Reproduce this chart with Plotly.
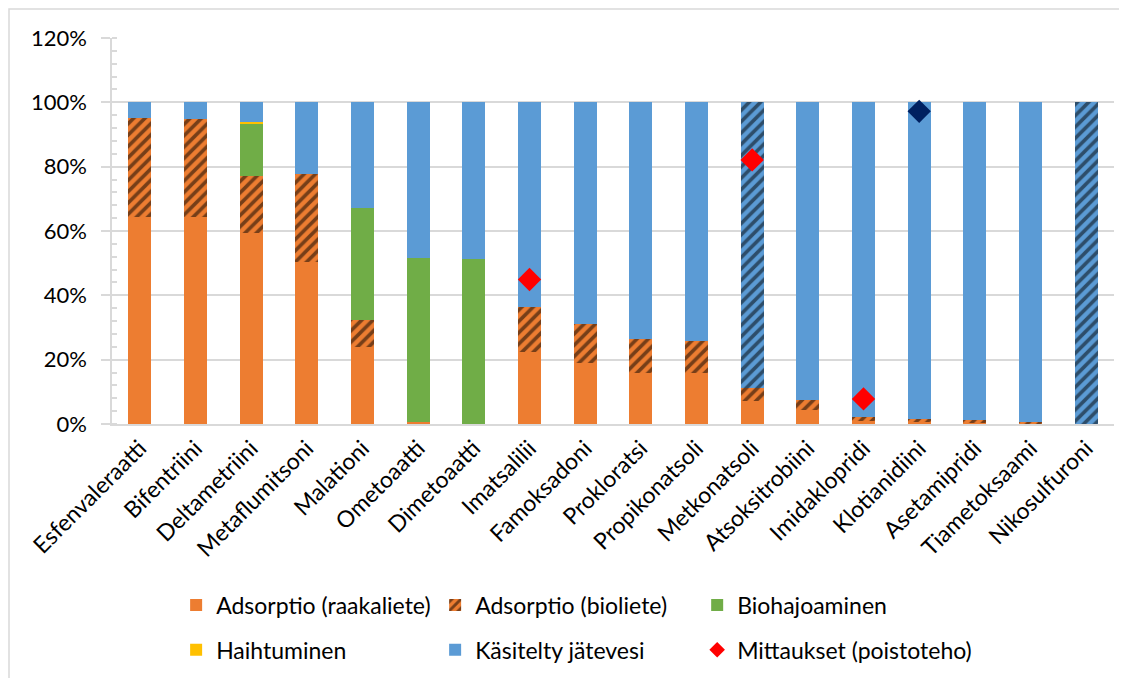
import plotly.graph_objects as go

categories = ["Esfenvaleraatti", "Bifentriini", "Deltametriini", "Metaflumitsoni", "Malationi",
              "Ometoaatti", "Dimetoaatti", "Imatsalilii", "Famoksadoni", "Prokloratsi",
              "Propikonatsoli", "Metkonatsoli", "Atsoksitrobiini", "Imidaklopridi", "Klotianidiini",
              "Asetamipridi", "Tiametoksaami", "Nikosulfuroni"]

adsorptio_raaka = [64.3, 64.3, 59.5, 50.4, 24.0, 0.5, 0.0, 22.5, 19.1, 16.0, 15.8, 7.0, 4.3, 1.0, 0.7, 0.4, 0.3, 0.0]
adsorptio_bio = [30.7, 30.5, 17.7, 27.3, 8.4, 0.0, 0.0, 13.9, 12.0, 10.3, 10.1, 4.3, 3.1, 1.1, 0.9, 0.8, 0.2, 0.0]
biohajoaminen = [0.0, 0.0, 16.3, 0.0, 34.9, 51.1, 51.4, 0.0, 0.0, 0.0, 0.0, 0.0, 0.0, 0.0, 0.0, 0.0, 0.0, 0.0]
haihtuminen = [0.0, 0.0, 0.3, 0.0, 0.0, 0.0, 0.0, 0.0, 0.0, 0.0, 0.0, 0.0, 0.0, 0.0, 0.0, 0.0, 0.0, 0.0]
kasitelty = [5.0, 5.2, 6.2, 22.3, 32.7, 48.4, 48.6, 63.6, 68.9, 73.7, 74.1, 88.7, 92.6, 97.9, 98.4, 98.8, 99.5, 100.0]
kasitelty_hatch = ["", "", "", "", "", "", "", "", "", "", "", "/", "", "", "", "", "", "/"]

meas_cats = ["Imatsalilii", "Metkonatsoli", "Imidaklopridi", "Klotianidiini"]
meas_values = [44.9, 82.1, 7.8, 97.2]
meas_colors = ["#FF0000", "#FF0000", "#FF0000", "#002060"]

y_ticks = [0, 20, 40, 60, 80, 100, 120]
y_ticklabels = ["0%", "20%", "40%", "60%", "80%", "100%", "120%"]

ORANGE = "#ED7D31"
GREEN = "#70AD47"
YELLOW = "#FFC000"
BLUE = "#5B9BD5"
FONT = "Lato"

fig = go.Figure()

fig.add_trace(go.Bar(name="Adsorptio (raakaliete)", x=categories, y=adsorptio_raaka,
                     marker=dict(color=ORANGE, line=dict(width=0)), legend="legend"))
fig.add_trace(go.Bar(name="Adsorptio (bioliete)", x=categories, y=adsorptio_bio,
                     marker=dict(color=ORANGE, line=dict(width=0),
                                 pattern=dict(shape="/", fgcolor="black", bgcolor=ORANGE,
                                              fillmode="overlay", size=8, solidity=0.45)),
                     legend="legend"))
fig.add_trace(go.Bar(name="Biohajoaminen", x=categories, y=biohajoaminen,
                     marker=dict(color=GREEN, line=dict(width=0)), legend="legend3"))
fig.add_trace(go.Bar(name="Haihtuminen", x=categories, y=haihtuminen,
                     marker=dict(color=YELLOW, line=dict(width=0)), legend="legend2"))
fig.add_trace(go.Bar(name="Käsitelty jätevesi", x=categories, y=kasitelty,
                     marker=dict(color=BLUE, line=dict(width=0),
                                 pattern=dict(shape=kasitelty_hatch, fgcolor="black",
                                              fillmode="overlay", size=8, solidity=0.45)),
                     legend="legend2"))
fig.add_trace(go.Scatter(name="Mittaukset (poistoteho)", x=meas_cats, y=meas_values, mode="markers",
                         marker=dict(symbol="diamond", size=18, color=meas_colors, line=dict(width=0)),
                         legend="legend4"))

legend_common = dict(orientation="h", xanchor="left", yanchor="middle", itemsizing="constant",
                     font=dict(family=FONT, size=23, color="#000000"),
                     bgcolor="rgba(0,0,0,0)", traceorder="normal", itemclick=False)
two_col = dict(entrywidth=214, entrywidthmode="pixels")

ROW1, ROW2 = -0.469, -0.585
COL1, COL3 = 0.064, 0.584

fig.update_layout(
    width=1127, height=678,
    margin=dict(l=104, r=21, t=30, b=262, autoexpand=False),
    barmode="stack", bargap=0.59,
    paper_bgcolor="white", plot_bgcolor="white",
    font=dict(family=FONT, size=22, color="#000000"),
    showlegend=True,
    legend=dict(x=COL1, y=ROW1, **two_col, **legend_common),
    legend2=dict(x=COL1, y=ROW2, **two_col, **legend_common),
    legend3=dict(x=COL3, y=ROW1, **legend_common),
    legend4=dict(x=COL3, y=ROW2, **legend_common),
    xaxis=dict(type="category", showgrid=False, showline=True, linecolor="#d9d9d9", linewidth=1.5,
               automargin=False,
               ticks="", tickangle=-45, tickfont=dict(family=FONT, size=23, color="#000000")),
    yaxis=dict(range=[0, 120], tickvals=y_ticks, ticktext=y_ticklabels, automargin=False,
               showgrid=True, gridcolor="#d9d9d9", gridwidth=1.5,
               showline=True, linecolor="#d9d9d9", linewidth=1.5,
               ticks="outside", ticklen=9, tickcolor="#d9d9d9", tickwidth=1.5,
               ticklabelstandoff=10,
               minor=dict(ticks="inside", ticklen=5, dtick=4, tickcolor="#d9d9d9", showgrid=False),
               tickfont=dict(family=FONT, size=22, color="#000000"), zeroline=False),
    shapes=[dict(type="rect", xref="paper", yref="paper", x0=-0.1028, x1=1.05, y0=-0.75, y1=1.0752,
                 line=dict(color="#d9d9d9", width=1.5), fillcolor="rgba(0,0,0,0)", layer="below")],
)

fig.write_html("out.html")
